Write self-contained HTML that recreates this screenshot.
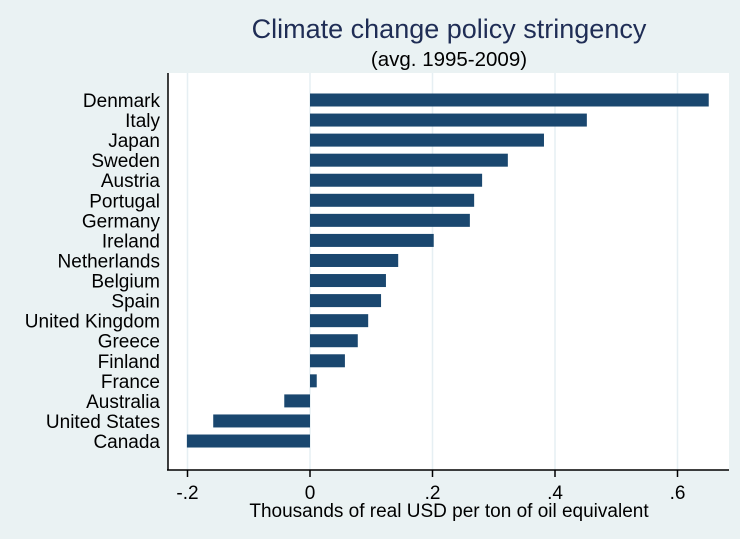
<!DOCTYPE html>
<html><head><meta charset="utf-8"><style>
body{margin:0;background:#eaf2f3;}
svg{display:block;font-family:"Liberation Sans",sans-serif;}
</style></head><body>
<svg id="chart" width="740" height="539">
<rect x="0" y="0" width="740" height="539" fill="#eaf2f3"/>
<rect x="168" y="73" width="561" height="397" fill="#ffffff"/>
<text x="449" y="38" text-anchor="middle" font-size="27" fill="#1f2d55">Climate change policy stringency</text>
<text x="449" y="66" text-anchor="middle" font-size="20.5" fill="#000">(avg. 1995-2009)</text>
<text x="449" y="517" text-anchor="middle" font-size="19" fill="#000">Thousands of real USD per ton of oil equivalent</text>
<g id="grid"></g><g id="bars"></g><g id="axes"></g>
</svg>
<script>
const categories=["Denmark","Italy","Japan","Sweden","Austria","Portugal","Germany","Ireland","Netherlands","Belgium","Spain","United Kingdom","Greece","Finland","France","Australia","United States","Canada"];
const values=[0.651,0.452,0.382,0.323,0.281,0.268,0.261,0.202,0.144,0.124,0.116,0.095,0.078,0.057,0.011,-0.042,-0.158,-0.201];
const tickValues=[-0.2,0,0.2,0.4,0.6];
const tickLabels=["-.2","0",".2",".4",".6"];
const NS="http://www.w3.org/2000/svg";
function xs(v){return 310+v*612.5;}
function ys(i){return 100+i*20.06;}
function mk(tag,attrs,parent){const e=document.createElementNS(NS,tag);for(const k in attrs)e.setAttribute(k,attrs[k]);parent.appendChild(e);return e;}
const grid=document.getElementById('grid'),bars=document.getElementById('bars'),axes=document.getElementById('axes');
tickValues.forEach((v,i)=>{
  const g=mk('line',{x1:xs(v),x2:xs(v),y1:73,y2:470,stroke:'#e6eff3','stroke-width':1.5},grid);
  
  
  const t=mk('line',{x1:xs(v),x2:xs(v),y1:470,y2:477,stroke:'#000','stroke-width':1.5},axes);
  
  
  const l=mk('text',{x:xs(v),y:499,'text-anchor':'middle','font-size':19},axes);
  l.textContent=tickLabels[i];
  
  
});
categories.forEach((c,i)=>{
  const v=values[i];
  const r=mk('rect',{x:Math.min(xs(0),xs(v)),y:ys(i)-6.5,width:Math.abs(xs(v)-xs(0)),height:13,fill:'#1a476f'},bars);
  
  
  const l=mk('text',{x:160,y:ys(i)+7,'text-anchor':'end','font-size':19},axes);
  l.textContent=c;
  
  
});
const ya=mk('line',{x1:168,x2:168,y1:73,y2:470,stroke:'#000','stroke-width':1.5},axes);


const xa=mk('line',{x1:167,x2:729,y1:470,y2:470,stroke:'#000','stroke-width':1.5},axes);


</script>
</body></html>
